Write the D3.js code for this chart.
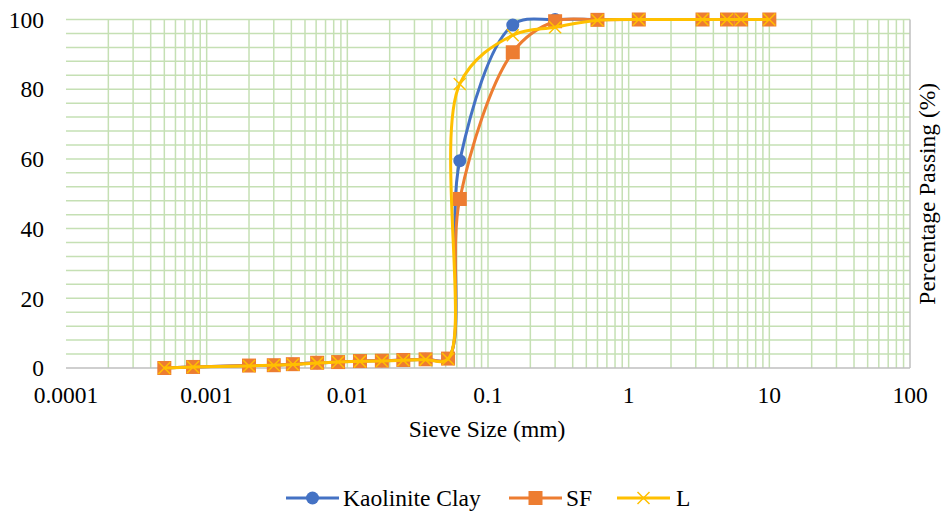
<!DOCTYPE html>
<html>
<head>
<meta charset="utf-8">
<script src="https://cdn.jsdelivr.net/npm/d3@7"></script>
<style>
  body { margin: 0; background: #fff; }
</style>
</head>
<body>
<div id="chart"></div>
<script>
// Sieve sizes (mm), shared by all series
const sieveSizes = [0.0005, 0.0008, 0.002, 0.003, 0.0041, 0.0061, 0.0086, 0.0123, 0.0176, 0.025, 0.036, 0.052,
  0.063, 0.15, 0.3, 0.6, 1.18, 3.35, 5, 6.3, 10];

// Percentage passing for each material
const kaoliniteClay = [0, 0.3, 0.7, 0.8, 1.1, 1.5, 1.7, 2.0, 2.1, 2.3, 2.5, 2.7,
  59.5, 98.4, 100, 100, 100, 100, 100, 100, 100];
const sfPassing = [0, 0.3, 0.7, 0.8, 1.1, 1.5, 1.7, 2.0, 2.1, 2.3, 2.5, 2.7,
  48.5, 90.6, 99.5, 99.9, 100, 100, 100, 100, 100];
const lPassing = [0, 0.3, 0.6, 0.8, 1.0, 1.4, 1.7, 1.9, 2.0, 2.2, 2.4, 2.6,
  81.5, 95.5, 97.8, 99.8, 100, 100, 100, 100, 100];

const seriesNames = ["Kaolinite Clay", "SF", "L"];
const xTickValues = [0.0001, 0.001, 0.01, 0.1, 1, 10, 100];
const xTickLabels = ["0.0001", "0.001", "0.01", "0.1", "1", "10", "100"];
const yTickValues = [0, 20, 40, 60, 80, 100];

const width = 941;
const height = 513;
const margin = { top: 19.5, right: 31, bottom: 145, left: 66 };
const fontSize = "23.5px";

const colors = { kaolinite: "#4472c4", sf: "#ed7d31", l: "#ffc000", grid: "#c5e0b4", axis: "#bfbfbf" };

const svg = d3.select("#chart").append("svg")
  .attr("width", width)
  .attr("height", height)
  .attr("font-family", "'Liberation Serif', 'Times New Roman', serif");

const x = d3.scaleLog()
  .domain([0.0001, 100])
  .range([margin.left, width - margin.right]);

const y = d3.scaleLinear()
  .domain([0, 100])
  .range([height - margin.bottom, margin.top]);

// Horizontal gridlines every 4 %
const hGrid = d3.range(4, 101, 4);
svg.append("g")
  .selectAll("line")
  .data(hGrid)
  .enter()
  .append("line")
  .attr("x1", x.range()[0])
  .attr("x2", x.range()[1])
  .attr("y1", (d) => y(d))
  .attr("y2", (d) => y(d))
  .attr("stroke", colors.grid)
  .attr("stroke-width", 1.5);

// Vertical log gridlines (no line at 0.0001, the right edge is the axis)
const vGrid = [];
for (let e = -4; e <= 1; e++) {
  for (let k = 1; k <= 9; k++) {
    if (e === -4 && k === 1) continue;
    vGrid.push(k * Math.pow(10, e));
  }
}
svg.append("g")
  .selectAll("line")
  .data(vGrid)
  .enter()
  .append("line")
  .attr("x1", (d) => x(d))
  .attr("x2", (d) => x(d))
  .attr("y1", y(0))
  .attr("y2", y(100))
  .attr("stroke", colors.grid)
  .attr("stroke-width", 1.5);

// Axis lines: bottom and right
svg.append("line")
  .attr("x1", x.range()[0])
  .attr("x2", x.range()[1])
  .attr("y1", y(0))
  .attr("y2", y(0))
  .attr("stroke", colors.axis)
  .attr("stroke-width", 1.5);
svg.append("line")
  .attr("x1", x(100))
  .attr("x2", x(100))
  .attr("y1", y(0))
  .attr("y2", y(100))
  .attr("stroke", colors.axis)
  .attr("stroke-width", 1.5);

// X tick labels
svg.append("g")
  .selectAll("text")
  .data(xTickValues)
  .enter()
  .append("text")
  .attr("x", (d) => x(d))
  .attr("y", 403)
  .attr("text-anchor", "middle")
  .style("font-size", fontSize)
  .text((d, i) => xTickLabels[i]);

// Y tick labels
svg.append("g")
  .selectAll("text")
  .data(yTickValues)
  .enter()
  .append("text")
  .attr("x", 44)
  .attr("y", (d) => y(d))
  .attr("dy", "0.35em")
  .attr("text-anchor", "end")
  .style("font-size", fontSize)
  .text((d) => d);

// Axis titles
svg.append("text")
  .attr("x", 487)
  .attr("y", 437)
  .attr("text-anchor", "middle")
  .style("font-size", fontSize)
  .text("Sieve Size (mm)");

svg.append("text")
  .attr("transform", `translate(935,${(y(0) + y(100)) / 2}) rotate(-90)`)
  .attr("text-anchor", "middle")
  .style("font-size", fontSize)
  .text("Percentage Passing (%)");

const line = d3.line()
  .x((d) => x(d.size))
  .y((d) => y(d.value))
  .curve(d3.curveCatmullRom.alpha(0.5));

const series = [
  { name: seriesNames[0], values: kaoliniteClay, color: colors.kaolinite, marker: "circle" },
  { name: seriesNames[1], values: sfPassing, color: colors.sf, marker: "square" },
  { name: seriesNames[2], values: lPassing, color: colors.l, marker: "cross" },
];

function drawMarker(g, type, color, cx, cy) {
  if (type === "circle") {
    g.append("circle")
      .attr("cx", cx).attr("cy", cy).attr("r", 6.5)
      .attr("fill", color);
  } else if (type === "square") {
    g.append("rect")
      .attr("x", cx - 7).attr("y", cy - 7)
      .attr("width", 14).attr("height", 14)
      .attr("fill", color);
  } else {
    g.append("path")
      .attr("d", `M${cx - 6},${cy - 6}L${cx + 6},${cy + 6}M${cx - 6},${cy + 6}L${cx + 6},${cy - 6}`)
      .attr("stroke", color)
      .attr("stroke-width", 1.5)
      .attr("fill", "none");
  }
}

series.forEach((s) => {
  const data = sieveSizes.map((size, i) => ({ size: size, value: s.values[i] }));
  const g = svg.append("g");

  g.append("path")
    .datum(data)
    .attr("fill", "none")
    .attr("stroke", s.color)
    .attr("stroke-width", 3)
    .attr("stroke-linejoin", "round")
    .attr("d", line);

  data.forEach((d) => drawMarker(g, s.marker, s.color, x(d.size), y(d.value)));
});

// Legend
const legendItems = [
  { x: 286, textX: 343 },
  { x: 509, textX: 566 },
  { x: 617, textX: 676 },
];
const legendY = 498;
const legend = svg.append("g");
series.forEach((s, i) => {
  const item = legendItems[i];
  legend.append("line")
    .attr("x1", item.x).attr("x2", item.x + 53)
    .attr("y1", legendY).attr("y2", legendY)
    .attr("stroke", s.color)
    .attr("stroke-width", 3);
  drawMarker(legend, s.marker, s.color, item.x + 26.5, legendY);
  legend.append("text")
    .attr("x", item.textX)
    .attr("y", legendY)
    .attr("dy", "0.35em")
    .style("font-size", fontSize)
    .text(s.name);
});
</script>
</body>
</html>
